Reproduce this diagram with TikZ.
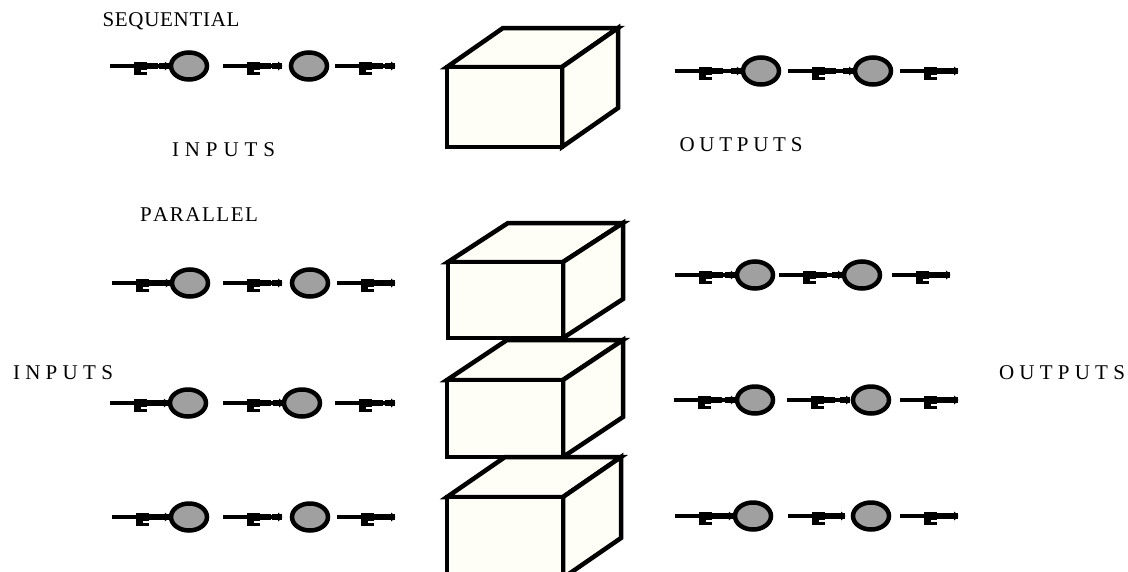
\documentclass[tikz,border=0pt]{standalone}
\usepackage{fontspec}
\setmainfont{Liberation Serif}
\usetikzlibrary{shapes.geometric,decorations.markings}
\definecolor{ivory}{RGB}{254,254,246}
\definecolor{beadgray}{RGB}{160,160,160}
\newcommand\drawcube[6]{% x1 y1 x2 y2 dx dy(up)
  \filldraw[cubeface] (#1,#2) -- (#1+#5,#2-#6) -- (#3+#5,#2-#6) -- (#3,#2) -- cycle;
  \filldraw[cubeface] (#3,#2) -- (#3+#5,#2-#6) -- (#3+#5,#4-#6) -- (#3,#4) -- cycle;
  \filldraw[cubeface] (#1,#2) rectangle (#3,#4);
}
\newcommand\chain[9]{%
  \coordinate (#1s1) at (#3,#2);
  \node[bead] (#1c1) at (#4,#2) {};
  \coordinate (#1s2) at (#5,#2);
  \coordinate (#1e2) at (#6,#2);
  \node[bead] (#1c2) at (#7,#2) {};
  \coordinate (#1s3) at (#8,#2);
  \coordinate (#1e3) at (#9,#2);
  \draw[plug] (#1s1) -- (#1c1);
  \draw[plug] (#1s2) -- (#1e2);
  \draw[plug] (#1s3) -- (#1e3);
}
\begin{document}
\begin{tikzpicture}[x=1pt,y=-1pt,
  cubeface/.style={fill=ivory,draw=black,line width=4.5pt,line join=miter},
  bead/.style={ellipse,draw=black,line width=4.5pt,fill=beadgray,minimum width=36pt,minimum height=27pt,inner sep=0pt},
  plug/.style={line width=3.4pt,postaction={decorate},
    decoration={markings,
      mark=at position 24pt with {\fill (0,-3.8) rectangle (13,8.5); \fill[white] (7,4.2) rectangle (13,6.2); \fill (13,-2.8) rectangle (24,2.8);},
      mark=at position 1 with {\fill (-10,-2.8) rectangle (0,2.8); \fill (-4,-4.5) -- (0,-1.2) -- (0,1.2) -- (-4,4.5) -- cycle;}}},
  lbl/.style={inner sep=0pt,font=\fontsize{21}{21}\selectfont}]
\useasboundingbox (0,0) rectangle (1128,571);
\clip (0,0) rectangle (1128,571);

% cubes
\drawcube{447}{67}{562}{147}{56}{39}
\drawcube{448}{262}{563}{338}{60}{39}
\drawcube{447}{380}{563}{457}{60}{40}
\drawcube{447}{497}{563}{578}{58}{40}

% chains
\chain{sl}{66}{110}{189}{223}{282}{309}{335}{395}
\chain{sr}{71}{675}{761}{788}{853}{873}{900}{958}
\chain{al}{283}{112}{190}{223}{282}{310}{337}{395}
\chain{ar}{275}{675}{755}{779}{842}{862}{892}{950}
\chain{bl}{403}{110}{188}{223}{283}{302}{335}{395}
\chain{br}{400}{674}{755}{787}{850}{871}{900}{958}
\chain{cl}{517}{112}{189}{223}{282}{310}{337}{395}
\chain{cr}{516}{675}{753}{788}{845}{871}{900}{958}

% labels
\node[lbl] (seq) at (171,21) {\makebox[137pt][s]{S\hfill E\hfill Q\hfill U\hfill E\hfill N\hfill T\hfill I\hfill A\hfill L}};
\node[lbl] (in1) at (223.5,150) {\makebox[103pt][s]{I\hfill N\hfill P\hfill U\hfill T\hfill S}};
\node[lbl] (out1) at (741,145) {\makebox[123pt][s]{O\hfill U\hfill T\hfill P\hfill U\hfill T\hfill S}};
\node[lbl] (par) at (199,215) {\makebox[118pt][s]{P\hfill A\hfill R\hfill A\hfill L\hfill L\hfill E\hfill L}};
\node[lbl] (in2) at (63,373) {\makebox[100pt][s]{I\hfill N\hfill P\hfill U\hfill T\hfill S}};
\node[lbl] (out2) at (1062,373) {\makebox[126pt][s]{O\hfill U\hfill T\hfill P\hfill U\hfill T\hfill S}};
\end{tikzpicture}
\end{document}
